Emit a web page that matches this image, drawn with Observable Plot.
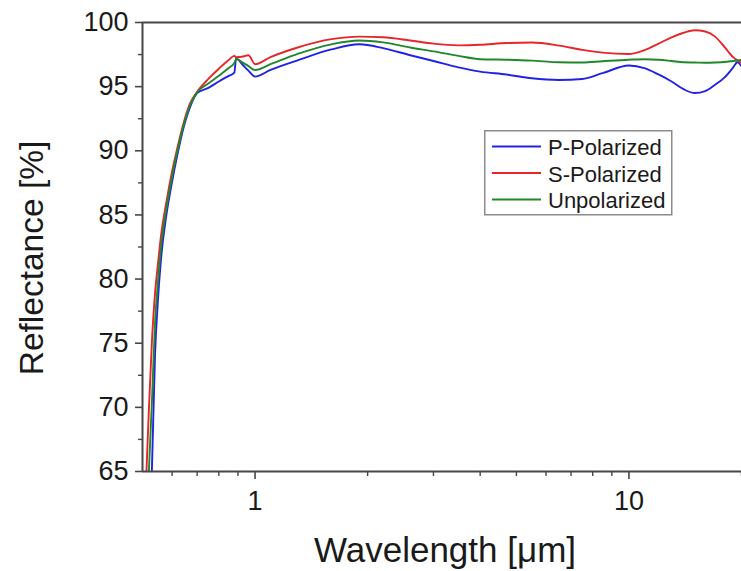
<!DOCTYPE html>
<html><head><meta charset="utf-8">
<script src="https://cdn.jsdelivr.net/npm/d3@7"></script>
<script src="https://cdn.jsdelivr.net/npm/@observablehq/plot@0.6"></script>
<style>
body{margin:0;background:#fff;font-family:"Liberation Sans",Arial,sans-serif;}
#wrap{position:relative;width:741px;height:571px;overflow:hidden;}
#legend{position:absolute;left:484px;top:130px;}
</style></head><body><div id="wrap"><div id="chart"></div><div id="legend"></div></div>
<script>
const wavelength = [0.50,0.51,0.52,0.53,0.54,0.55,0.56,0.58,0.60,0.62,0.64,0.67,0.70,0.75,0.80,0.85,0.88,0.89,0.93,0.96,1.0,1.1,1.3,1.6,1.9,2.2,2.6,3.0,3.5,4.0,4.7,5.5,6.5,7.5,8.5,10,11,12,13,14,15,16,17,18,19,19.5,20];
const pPolarized = [45,52,59,65.3,74.0,78.4,81.46,85.1,87.6,89.7,91.5,93.4,94.5,94.9,95.4,95.84,96.09,97.2,96.65,96.25,95.78,96.3,97.05,97.9,98.3,98.0,97.45,97.0,96.5,96.17,95.95,95.65,95.52,95.6,96.05,96.65,96.45,95.95,95.4,94.8,94.5,94.65,95.15,95.7,96.5,96.9,96.6];
const sPolarized = [57,63.5,69.8,75.2,78.86,81.2,83.3,86.1,88.4,90.25,91.88,93.7,94.6,95.6,96.4,97.08,97.4,97.3,97.35,97.45,96.75,97.3,98.05,98.7,98.9,98.85,98.6,98.35,98.22,98.26,98.4,98.44,98.2,97.87,97.65,97.55,97.85,98.35,98.85,99.2,99.4,99.3,98.9,98.1,97.3,97.05,96.85];
const unpolarized = [51,58,65,70.5,76.5,79.8,82.4,85.6,88.0,90.0,91.7,93.55,94.55,95.25,95.85,96.45,96.85,97.15,96.85,96.6,96.3,96.75,97.55,98.3,98.6,98.45,98.05,97.75,97.4,97.14,97.1,97.03,96.9,96.88,96.98,97.1,97.14,97.1,97.0,96.9,96.88,96.86,96.88,96.92,97.0,97.04,97.08];
const seriesNames = ["P-Polarized","S-Polarized","Unpolarized"];
const seriesColors = ["#2222e6","#e6262b","#21882a"];
const xMajorTicks = [1,10];
const xMinorTicks = [0.6,0.7,0.8,0.9,2,3,4,5,6,7,8,9,20];
const yMajorTicks = [65,70,75,80,85,90,95,100];
const yMinorTicks = [67.5,72.5,77.5,82.5,87.5,92.5,97.5];
const xTitle = "Wavelength [μm]";
const yTitle = "Reflectance [%]";

const seriesValues = [pPolarized, sPolarized, unpolarized];
const rows = [];
seriesNames.forEach((name, s) => wavelength.forEach((w, i) => rows.push({name, w, r: seriesValues[s][i]})));

const axisColor = "#474747";
const chart = Plot.plot({
  width: 741, height: 571,
  marginLeft: 142, marginRight: 0, marginTop: 22, marginBottom: 100,
  style: {fontFamily: '"Liberation Sans", Arial, sans-serif', color: "#1a1a1a", background: "#fff"},
  x: {type: "log", domain: [0.5, 20]},
  y: {domain: [65, 100]},
  color: {domain: seriesNames, range: seriesColors},
  marks: [
    Plot.line(rows, {x: "w", y: "r", z: "name", stroke: "name", curve: "monotone-x", strokeWidth: 1.9, clip: true}),
    Plot.ruleY([100], {stroke: axisColor, strokeWidth: 2}),
    Plot.ruleY([65], {stroke: axisColor, strokeWidth: 2}),
    Plot.ruleX([0.5], {stroke: axisColor, strokeWidth: 2}),
    Plot.axisX(xMajorTicks, {tickSize: 8, tickPadding: 11, tickFormat: d => String(d), fontSize: 27, label: null, stroke: axisColor, strokeWidth: 1.6}),
    Plot.axisX(xMinorTicks, {tickSize: 5, tickFormat: () => "", label: null, stroke: axisColor, strokeWidth: 1.4}),
    Plot.axisY(yMajorTicks, {tickSize: 7, tickPadding: 7, tickFormat: d => String(d), fontSize: 27, label: null, stroke: axisColor, strokeWidth: 1.6}),
    Plot.axisY(yMinorTicks, {tickSize: 4, tickFormat: () => "", label: null, stroke: axisColor, strokeWidth: 1.4}),
    Plot.text([yTitle], {text: d => d, frameAnchor: "left", dx: -110, dy: 11, rotate: -90, fontSize: 33.5, textAnchor: "middle", lineAnchor: "middle", fill: "#1a1a1a"}),
    Plot.text([xTitle], {text: d => d, frameAnchor: "bottom", dx: 3, dy: 79, fontSize: 35, textAnchor: "middle", lineAnchor: "middle", fill: "#1a1a1a"})
  ]
});
document.getElementById("chart").appendChild(chart);

// legend
const lg = d3.select("#legend").append("svg").attr("width", 189).attr("height", 87)
  .style("font-family", '"Liberation Sans", Arial, sans-serif');
lg.append("rect").attr("x", 0.75).attr("y", 0.75).attr("width", 187).attr("height", 84)
  .attr("fill", "#fff").attr("stroke", "#8c8c8c").attr("stroke-width", 1.5);
seriesNames.forEach((name, i) => {
  const yy = 16.5 + i * 26.5;
  lg.append("line").attr("x1", 8).attr("x2", 57).attr("y1", yy).attr("y2", yy)
    .attr("stroke", seriesColors[i]).attr("stroke-width", 1.9);
  lg.append("text").attr("x", 64).attr("y", yy + 1).attr("dy", "0.35em")
    .attr("font-size", 22).attr("fill", "#1a1a1a").text(name);
});
</script>
</body></html>
